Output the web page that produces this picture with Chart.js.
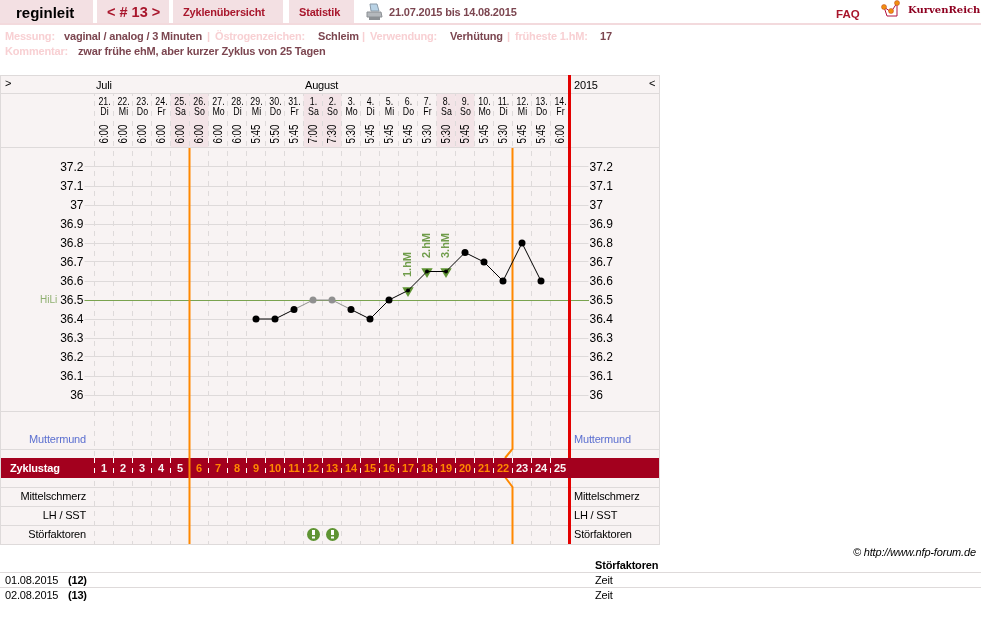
<!DOCTYPE html>
<html>
<head>
<meta charset="utf-8">
<title>reginleit</title>
<script src="https://cdn.jsdelivr.net/npm/chart.js@4"></script>
<style>
html, body { margin: 0; padding: 0; background: #fff; }
body { width: 981px; height: 624px; overflow: hidden; position: relative; font-family: "Liberation Sans", Arial, sans-serif; }
canvas { position: absolute; left: 0; top: 0; }
.tab { position: absolute; top: 0; height: 23px; background: #f3e0e3; }
.t { position: absolute; white-space: nowrap; line-height: 1; font-size: 11px; letter-spacing: -.18px; color: #000; }
</style>
</head>
<body>
<div class="tab" style="left:0;width:93px"></div>
<div class="tab" style="left:97px;width:72px"></div>
<div class="tab" style="left:173px;width:110px"></div>
<div class="tab" style="left:289px;width:65px"></div>
<div style="position:absolute;left:0;top:23px;width:981px;height:2px;background:#f3dadd"></div>
<svg style="position:absolute;left:366px;top:3px" width="17" height="18">
  <path d="M4 1 L11 1 L13 8 L5 8 Z" fill="#b9d3e6" stroke="#8a9aa8"/>
  <path d="M1 9 L15 9 L16 14 L1 14 Z" fill="#b4b8bc" stroke="#8c9094"/>
  <rect x="3" y="14" width="11" height="3" fill="#8c9094"/>
</svg>
<svg style="position:absolute;left:880px;top:0" width="22" height="20">
  <path d="M4 7 L7 16 L17 16 L17 3 M4 7 L11 12 L17 3" fill="none" stroke="#b01040" stroke-width="1"/>
  <circle cx="4" cy="7" r="2.5" fill="#f09010" stroke="#c04020" stroke-width=".5"/>
  <circle cx="11" cy="11" r="2.5" fill="#f09010" stroke="#c04020" stroke-width=".5"/>
  <circle cx="17" cy="3" r="2.5" fill="#f09010" stroke="#c04020" stroke-width=".5"/>
</svg>
<canvas id="kurve" width="981" height="624"></canvas>

<script>
// Zyklus 13, 21.07. bis 14.08.2015
var tage = ["21.", "22.", "23.", "24.", "25.", "26.", "27.", "28.", "29.", "30.", "31.", "1.", "2.", "3.", "4.", "5.", "6.", "7.", "8.", "9.", "10.", "11.", "12.", "13.", "14."];
var wochentage = ["Di", "Mi", "Do", "Fr", "Sa", "So", "Mo", "Di", "Mi", "Do", "Fr", "Sa", "So", "Mo", "Di", "Mi", "Do", "Fr", "Sa", "So", "Mo", "Di", "Mi", "Do", "Fr"];
var zeiten = ["6:00", "6:00", "6:00", "6:00", "6:00", "6:00", "6:00", "6:00", "5:45", "5:50", "5:45", "7:00", "7:30", "5:30", "5:45", "5:45", "5:45", "5:30", "5:30", "5:45", "5:45", "5:30", "5:45", "5:45", "6:00"];
var temperatur = [null, null, null, null, null, null, null, null, 36.4, 36.4, 36.45, 36.5, 36.5, 36.45, 36.4, 36.5, 36.55, 36.65, 36.65, 36.75, 36.7, 36.6, 36.8, 36.6, null];
var hochlagen = [null, null, null, null, null, null, null, null, null, null, null, null, null, null, null, null, 36.55, 36.65, 36.65, null, null, null, null, null, null];
var hochlagenText = ["1.hM", "2.hM", "3.hM"];
var ausklammern = [11, 12];
var wochenende = [4, 5, 11, 12, 18, 19];
var fruchtbarVon = 5;
var fruchtbarBis = 21;
var tempTicks = [37.2, 37.1, 37, 36.9, 36.8, 36.7, 36.6, 36.5, 36.4, 36.3, 36.2, 36.1, 36];
var hilfslinie = 36.5;

var bg = "#f8f3f3";
var linie = "#dedada";
var gruen = "#5f9433";

function t(text, x, y, style) {
    var el = document.createElement("div");
    el.className = "t";
    el.textContent = text;
    el.style.cssText = "left:" + x + "px;top:" + y + "px;" + (style || "");
    document.body.appendChild(el);
    return el;
}

var pagePlugin = {
    id: "page",
    beforeDraw: function (chart) {
        var c = chart.ctx;
        var x = chart.scales.x;
        c.save();
        c.fillStyle = bg;
        c.fillRect(0, 75, 660, 470);
        c.fillStyle = "#f3e4e7";
        wochenende.forEach(function (i) {
            c.fillRect(x.getPixelForValue(i) - 9.5, 94, 19, 54);
        });
        c.restore();
    },
    beforeDatasetsDraw: function (chart) {
        var c = chart.ctx;
        var x = chart.scales.x;
        var y = chart.scales.y;
        var rand1 = x.getPixelForValue(fruchtbarVon) - 9.5;
        var rand2 = x.getPixelForValue(fruchtbarBis) + 9.5;
        var rechts = x.getPixelForValue(tage.length - 1) + 9.5;
        c.save();
        // Zeilen
        c.strokeStyle = linie;
        c.lineWidth = 1;
        [93.5, 147.5, 411.5, 449.5, 487.5, 506.5, 525.5].forEach(function (p) {
            c.beginPath();
            c.moveTo(0, p);
            c.lineTo(660, p);
            c.stroke();
        });
        // Hilfslinie
        var hy = Math.round(y.getPixelForValue(hilfslinie)) + 0.5;
        c.strokeStyle = "#7aa34f";
        c.beginPath();
        c.moveTo(85, hy);
        c.lineTo(589, hy);
        c.stroke();
        // fruchtbare Zeit
        c.strokeStyle = "#ff8800";
        c.lineWidth = 2;
        c.beginPath();
        c.moveTo(rand1, 148);
        c.lineTo(rand1, 544);
        c.moveTo(rand2, 148);
        c.lineTo(rand2, 449);
        c.lineTo(rand2 - 7.5, 458);
        c.moveTo(rand2 - 7.5, 477);
        c.lineTo(rand2, 487);
        c.lineTo(rand2, 544);
        c.stroke();
        c.strokeStyle = "#e30000";
        c.lineWidth = 3;
        c.beginPath();
        c.moveTo(rechts, 75);
        c.lineTo(rechts, 544);
        c.stroke();
        // Zyklustag-Balken
        c.fillStyle = "#a3001e";
        c.fillRect(0, 458, 660, 20);
        c.strokeStyle = "#fff";
        c.lineWidth = 1;
        c.setLineDash([5, 5]);
        for (var i = 0; i < tage.length; i++) {
            var bx = x.getPixelForValue(i) - 9.5;
            if (i == fruchtbarVon) continue;
            c.beginPath();
            c.moveTo(bx, 458);
            c.lineTo(bx, 478);
            c.stroke();
        }
        c.setLineDash([]);
        c.strokeStyle = "#ff8800";
        c.lineWidth = 2;
        c.beginPath();
        c.moveTo(rand1, 458);
        c.lineTo(rand1, 478);
        c.stroke();
        c.restore();
    },
    afterDatasetsDraw: function (chart) {
        var c = chart.ctx;
        var x = chart.scales.x;
        var y = chart.scales.y;
        c.save();
        // oben und unten abdecken
        c.fillStyle = bg;
        c.fillRect(0, 76, 566, 17);
        c.fillStyle = "#fff";
        c.fillRect(0, 545, 660, 4);
        // Rahmen
        c.strokeStyle = linie;
        c.lineWidth = 1;
        c.strokeRect(0.5, 75.5, 659, 469);
        c.fillStyle = "#e30000";
        c.fillRect(x.getPixelForValue(tage.length - 1) + 8, 75, 3, 18);
        // Hochlagen beschriften
        c.fillStyle = "#6f9c4a";
        c.font = "bold 11px 'Liberation Sans'";
        c.textAlign = "center";
        c.textBaseline = "middle";
        var n = 0;
        hochlagen.forEach(function (v, i) {
            if (v === null) return;
            c.save();
            c.translate(x.getPixelForValue(i), y.getPixelForValue(v) - 26);
            c.rotate(-Math.PI / 2);
            c.fillText(hochlagenText[n], 0, 0);
            c.restore();
            n++;
        });
        // Stoerfaktoren
        ausklammern.forEach(function (i) {
            var px = x.getPixelForValue(i) + 0.5;
            c.fillStyle = gruen;
            c.beginPath();
            c.arc(px, 534.5, 6.5, 0, Math.PI * 2);
            c.fill();
            c.fillStyle = "#fff";
            c.fillRect(px - 1.5, 530, 3, 5);
            c.fillRect(px - 1.5, 536.5, 3, 2);
        });
        c.restore();
    }
};

new Chart("kurve", {
    type: "line",
    plugins: [pagePlugin],
    data: {
        labels: tage,
        datasets: [{
            label: "Temperatur",
            data: temperatur,
            order: 1,
            borderColor: "#000",
            borderWidth: 1,
            tension: 0,
            pointRadius: function (ctx) { return hochlagen[ctx.dataIndex] === null ? 3.5 : 2; },
            pointBorderWidth: 0,
            pointBackgroundColor: function (ctx) {
                return ausklammern.indexOf(ctx.dataIndex) >= 0 ? "#909090" : "#000";
            },
            segment: {
                borderColor: function (ctx) {
                    if (ausklammern.indexOf(ctx.p0DataIndex) >= 0 || ausklammern.indexOf(ctx.p1DataIndex) >= 0) return "#909090";
                    return "#000";
                }
            }
        }, {
            label: "Hochlagen",
            data: hochlagen,
            order: 2,
            showLine: false,
            pointStyle: "triangle",
            rotation: 180,
            pointRadius: 6.6,
            pointBorderWidth: 0,
            pointBackgroundColor: gruen
        }]
    },
    options: {
        responsive: false,
        animation: false,
        events: [],
        layout: { padding: { top: 91, bottom: 77, left: 0, right: 0 } },
        plugins: { legend: { display: false }, tooltip: { enabled: false } },
        scales: {
            x: {
                offset: true,
                afterFit: function (s) { s.height = 0; },
                border: { display: false, dash: [5, 5] },
                ticks: { display: false },
                grid: { offset: true, color: "#dedada", drawTicks: false, tickLength: 0 }
            },
            y: {
                position: "left",
                min: 35.2,
                max: 37.6,
                afterFit: function (s) { s.width = 94.5; },
                afterBuildTicks: function (s) {
                    s.ticks = tempTicks.map(function (v) { return { value: v }; });
                },
                border: { display: false },
                ticks: {
                    autoSkip: false,
                    padding: 1,
                    labelOffset: 1,
                    color: "#000",
                    font: { family: "Liberation Sans", size: 12 },
                    callback: function (v) { return String(v); }
                },
                grid: {
                    tickLength: 10,
                    color: function (ctx) { return ctx.tick && ctx.tick.value == hilfslinie ? "#7aa34f" : "#dedada"; }
                }
            },
            y2: {
                position: "right",
                min: 35.2,
                max: 37.6,
                afterFit: function (s) { s.width = 411.5; },
                afterBuildTicks: function (s) {
                    s.ticks = tempTicks.map(function (v) { return { value: v }; });
                },
                border: { display: false },
                ticks: {
                    autoSkip: false,
                    padding: 1,
                    labelOffset: 1,
                    color: "#000",
                    font: { family: "Liberation Sans", size: 12 },
                    callback: function (v) { return String(v); }
                },
                grid: { drawOnChartArea: false, tickLength: 19, color: "#dedada" }
            }
        }
    }
});

// Kopf
t("reginleit", 16, 5, "font-size:15px;letter-spacing:0;font-weight:bold;");
t("< # 13 >", 107, 5, "font-size:14.5px;letter-spacing:0;font-weight:bold;color:#a8162c;");
t("Zyklenübersicht", 183, 7, "font-weight:bold;color:#a8162c;");
t("Statistik", 299, 7, "font-weight:bold;color:#a8162c;");
t("21.07.2015 bis 14.08.2015", 389, 7, "font-weight:bold;color:#7c4650;");
t("FAQ", 836, 9, "font-size:11.5px;letter-spacing:0;font-weight:bold;color:#a8162c;");
t("KurvenReich", 908, 5, "font-family:'DejaVu Serif';font-size:10px;letter-spacing:0;font-weight:bold;color:#8e0020;");

var hell = "font-weight:bold;color:#f8d0d3;";
var dunkel = "font-weight:bold;color:#7c4650;";
t("Messung:", 5, 31, hell);
t("vaginal / analog / 3 Minuten", 64, 31, dunkel);
t("|", 207, 31, hell);
t("Östrogenzeichen:", 215, 31, hell);
t("Schleim", 318, 31, dunkel);
t("|", 362, 31, hell);
t("Verwendung:", 370, 31, hell);
t("Verhütung", 450, 31, dunkel);
t("|", 507, 31, hell);
t("früheste 1.hM:", 515, 31, hell);
t("17", 600, 31, dunkel);
t("Kommentar:", 5, 46, hell);
t("zwar frühe ehM, aber kurzer Zyklus von 25 Tagen", 78, 46, dunkel);

// Tabellenkopf
t(">", 5, 78);
t("Juli", 96, 80);
t("August", 305, 80);
t("2015", 574, 80);
t("<", 649, 78);

var gestaucht = "width:19px;text-align:center;font-size:11px;letter-spacing:0;transform:scaleX(.8);";
tage.forEach(function (tag, i) {
    var links = 94.5 + i * 19;
    t(tag, links + 0.5, 96, gestaucht);
    t(wochentage[i], links, 105.5, gestaucht);
    t(zeiten[i], links - 5.5, 128, "width:30px;text-align:center;font-size:12px;letter-spacing:0;transform:rotate(-90deg) scaleX(.82);");
    var farbig = i >= fruchtbarVon && i <= fruchtbarBis;
    t(String(i + 1), links, 463, "width:19px;text-align:center;font-size:11px;letter-spacing:0;font-weight:bold;color:" + (farbig ? "#ff8800" : "#f8f3f3") + ";");
});

// Zeilen links und rechts
var zeilen = ["Mittelschmerz", "LH / SST", "Störfaktoren"];
var zeilenY = [491, 510, 529];
zeilen.forEach(function (z, i) {
    t(z, 0, zeilenY[i], "width:86px;text-align:right;");
    t(z, 574, zeilenY[i]);
});
t("Muttermund", 0, 434, "width:86px;text-align:right;color:#5b6fd0;");
t("Muttermund", 574, 434, "color:#5b6fd0;");
t("Zyklustag", 10, 463, "font-weight:bold;color:#fff;");
t("HiLi", 40, 295, "font-size:10px;letter-spacing:0;color:#8fb070;");

// Fuss
t("© http://www.nfp-forum.de", 853, 547, "font-style:italic;");
t("Störfaktoren", 595, 560, "font-weight:bold;");
var fussLinie = [572, 587];
fussLinie.forEach(function (p) {
    var d = document.createElement("div");
    d.style.cssText = "position:absolute;left:0;width:981px;height:1px;background:#dedada;top:" + p + "px;";
    document.body.appendChild(d);
});
var fussDaten = ["01.08.2015", "02.08.2015"];
var fussTag = ["(12)", "(13)"];
fussDaten.forEach(function (d, i) {
    var y = 575 + i * 15;
    t(d, 5, y);
    t(fussTag[i], 68, y, "font-weight:bold;");
    t("Zeit", 595, y);
});
</script>
</body>
</html>
